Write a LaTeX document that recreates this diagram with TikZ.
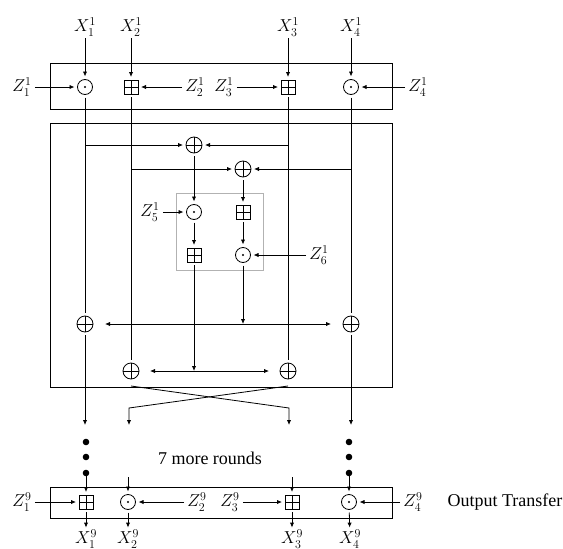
\documentclass[tikz,border=0pt]{standalone}
\usepackage{fontspec}
\setmainfont{Liberation Serif}
\DeclareMathSizes{16}{16}{11.5}{9}
\usetikzlibrary{arrows.meta}
\tikzset{
  ln/.style={line width=0.8pt},
  arr/.style={line width=0.8pt,-{Latex[length=5pt,width=4.2pt]}},
  darr/.style={line width=0.8pt,{Latex[length=5pt,width=4.2pt]}-{Latex[length=5pt,width=4.2pt]}},
  frame/.style={line width=0.9pt},
  graybox/.style={draw=black!30,line width=0.9pt},
  odotn/.style={circle,draw,line width=0.8pt,minimum size=15pt,inner sep=0pt,outer sep=3pt,
    path picture={\fill (path picture bounding box.center) circle (1.1pt);}},
  boxplusn/.style={rectangle,draw,line width=0.8pt,minimum size=14pt,inner sep=0pt,outer sep=3pt,
    path picture={\draw[line width=0.8pt] (path picture bounding box.north) -- (path picture bounding box.south)
      (path picture bounding box.west) -- (path picture bounding box.east);}},
  oplusn/.style={circle,draw,line width=0.8pt,minimum size=16pt,inner sep=0pt,outer sep=3pt,
    path picture={\draw[line width=0.8pt] (path picture bounding box.north) -- (path picture bounding box.south)
      (path picture bounding box.west) -- (path picture bounding box.east);}},
  lbl/.style={font=\fontsize{16}{19}\selectfont,inner xsep=3pt,inner ysep=2pt},
  txt/.style={font=\fontsize{18}{21}\selectfont,inner sep=0pt},
  dotn/.style={circle,fill,minimum size=6.6pt,inner sep=0pt,outer sep=0pt}
}
\begin{document}
\begin{tikzpicture}[x=1pt,y=-1pt]
\useasboundingbox (0,0) rectangle (563,549);

% frames
\draw[frame] (50,63) rectangle (392,109);
\draw[frame] (50,123) rectangle (392,387);
\draw[graybox] (176,193) rectangle (263,270);
\draw[frame] (50,487) rectangle (392,518);

% top row
\node[lbl] (X11) at (85,27) {$X_1^1$};
\node[lbl] (X21) at (131,27) {$X_2^1$};
\node[lbl] (X31) at (288,27) {$X_3^1$};
\node[lbl] (X41) at (351,27) {$X_4^1$};
\node[odotn] (m1) at (85,87) {};
\node[boxplusn] (a2) at (131,87) {};
\node[boxplusn] (a3) at (288,87) {};
\node[odotn] (m4) at (351,87) {};
\node[lbl] (Z11) at (22,87) {$Z_1^1$};
\node[lbl] (Z21) at (195,87) {$Z_2^1$};
\node[lbl] (Z31) at (224,87) {$Z_3^1$};
\node[lbl] (Z41) at (418,87) {$Z_4^1$};
\draw[arr] (X11) -- (m1);
\draw[arr] (X21) -- (a2);
\draw[arr] (X31) -- (a3);
\draw[arr] (X41) -- (m4);
\draw[arr] (Z11) -- (m1);
\draw[arr] (Z21) -- (a2);
\draw[arr] (Z31) -- (a3);
\draw[arr] (Z41) -- (m4);

% middle
\node[oplusn] (p1) at (194,145) {};
\node[oplusn] (p2) at (243,169) {};
\node[odotn] (m5) at (194,212) {};
\node[boxplusn] (a6) at (243,212) {};
\node[boxplusn] (a7) at (194,255) {};
\node[odotn] (m8) at (243,255) {};
\node[lbl] (Z51) at (150,212) {$Z_5^1$};
\node[lbl] (Z61) at (319,255) {$Z_6^1$};
\node[oplusn] (q1) at (85,324) {};
\node[oplusn] (q2) at (351,324) {};
\node[oplusn] (r1) at (131,371) {};
\node[oplusn] (r2) at (288,371) {};

\draw[ln] (m1) -- (q1);
\draw[ln] (a2) -- (r1);
\draw[ln] (a3) -- (r2);
\draw[ln] (m4) -- (q2);
\draw[arr] (m1 |- p1) -- (p1);
\draw[arr] (a3 |- p1) -- (p1);
\draw[arr] (a2 |- p2) -- (p2);
\draw[arr] (m4 |- p2) -- (p2);
\draw[arr] (p1) -- (m5);
\draw[arr] (p2) -- (a6);
\draw[arr] (Z51) -- (m5);
\draw[arr] (Z61) -- (m8);
\draw[arr] (m5) -- (a7);
\draw[arr] (a6) -- (m8);
\draw[arr] (m8) -- (m8 |- q1);
\draw[arr] (a7) -- (a7 |- r1);
\draw[darr,shorten <=9pt,shorten >=9pt] (q1) -- (q2);
\draw[darr,shorten <=8pt,shorten >=8pt] (r1) -- (r2);

% crossing and exits
\coordinate (cL) at (131,386);
\coordinate (cR) at (288,386);
\coordinate (kL) at (129,408);
\coordinate (kR) at (289,408);
\coordinate (e1) at (85,425);
\coordinate (e2) at (129,425);
\coordinate (e3) at (289,425);
\coordinate (e4) at (351,425);
\draw[arr] (cL) -- (kR) -- (e3);
\draw[arr] (cR) -- (kL) -- (e2);
\draw[arr] (q1) -- (e1);
\draw[arr] (q2) -- (e4);

% dots
\node[dotn] (d11) at (86,442) {};
\node[dotn] (d12) at (86,457) {};
\node[dotn] (d13) at (86,473) {};
\node[dotn] (d41) at (349,442) {};
\node[dotn] (d42) at (349,457) {};
\node[dotn] (d43) at (349,473) {};
\node[txt] (more) at (210,458) {7 more rounds};

% bottom row
\node[boxplusn] (b1) at (86,502) {};
\node[odotn] (b2) at (128,502) {};
\node[boxplusn] (b3) at (292,502) {};
\node[odotn] (b4) at (349,502) {};
\node[lbl] (Z19) at (22,502) {$Z_1^9$};
\node[lbl] (Z29) at (197,502) {$Z_2^9$};
\node[lbl] (Z39) at (230,502) {$Z_3^9$};
\node[lbl] (Z49) at (413,502) {$Z_4^9$};
\node[txt] (out) at (505,502) {Output Transfer};
\coordinate (s2) at (128,477);
\coordinate (s3) at (292,477);
\draw[arr] (d13) -- (b1);
\draw[arr] (s2) -- (b2);
\draw[arr] (s3) -- (b3);
\draw[arr] (d43) -- (b4);
\draw[arr] (Z19) -- (b1);
\draw[arr] (Z29) -- (b2);
\draw[arr] (Z39) -- (b3);
\draw[arr] (Z49) -- (b4);
\node[lbl] (X19) at (86,539) {$X_1^9$};
\node[lbl] (X29) at (128,539) {$X_2^9$};
\node[lbl] (X39) at (292,539) {$X_3^9$};
\node[lbl] (X49) at (350,539) {$X_4^9$};
\draw[arr] (b1) -- (X19);
\draw[arr] (b2) -- (X29);
\draw[arr] (b3) -- (X39);
\draw[arr] (b4) -- (X49);
\end{tikzpicture}
\end{document}
